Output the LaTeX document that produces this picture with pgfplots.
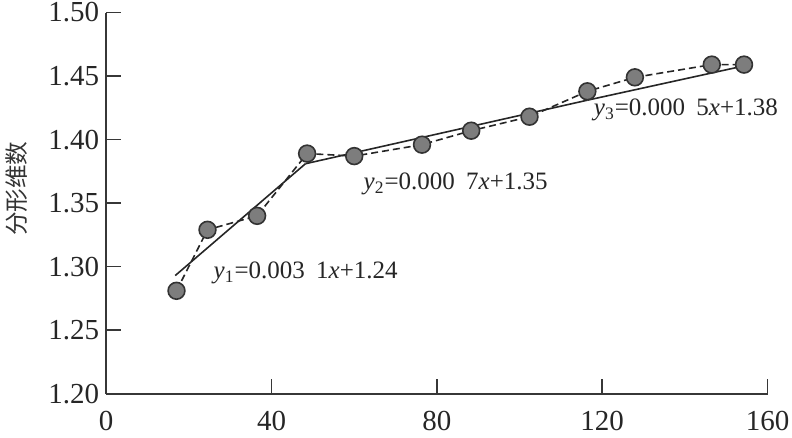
\documentclass[border={3pt 0pt -2pt -2pt}]{standalone}
\usepackage{fontspec}
\setmainfont{Liberation Serif}
\newfontfamily\cjk{Noto Sans CJK SC}
\usepackage{pgfplots}
\pgfplotsset{compat=1.18}
\definecolor{markgray}{RGB}{125,125,125}
\definecolor{axgray}{RGB}{55,55,55}
\newcommand{\eqfont}{\fontsize{12.5}{14}\selectfont}
\begin{document}
\begin{tikzpicture}
\begin{axis}[
  scale only axis, width=330.5pt, height=190.5pt,
  xmin=0, xmax=160, ymin=1.2, ymax=1.5,
  axis x line=bottom, axis y line=left,
  axis line style={-, axgray, line width=1pt},
  xtick={0,40,80,120,160},
  ytick={1.20,1.25,1.30,1.35,1.40,1.45,1.50},
  tick align=inside, major tick length=7.5pt,
  tick style={axgray, line width=0.8pt},
  /pgf/number format/assume math mode=true,
  yticklabel style={/pgf/number format/fixed, /pgf/number format/fixed zerofill, /pgf/number format/precision=2},
  ticklabel style={font=\fontsize{14.5}{16}\selectfont, text=black!85},
  xticklabel style={yshift=-5pt},
  ylabel={分形维数},
  ylabel style={at={(axis description cs:-0.135,0.538)}, anchor=center, inner sep=0pt, font=\cjk\fontsize{11.8}{12}\selectfont, text=black!80},
  clip=false,
]
% fitted segments
\addplot[black!85, line width=0.8pt] coordinates {(16.7,1.293) (48.2,1.381)};
\addplot[black!85, line width=0.8pt] coordinates {(48.2,1.381) (116.4,1.431)};
\addplot[black!85, line width=0.8pt] coordinates {(116.4,1.431) (154.3,1.458)};
% measured points
\addplot[black!85, line width=0.8pt, dash pattern=on 3.5pt off 2pt,
  mark=*, mark size=4.2pt, mark options={solid, fill=markgray, draw=black!80, line width=0.8pt}]
  coordinates {(17,1.281) (24.5,1.329) (36.5,1.340) (48.6,1.389) (60.0,1.387) (76.4,1.396) (88.3,1.407) (102.4,1.418) (116.4,1.438) (127.9,1.449) (146.5,1.459) (154.3,1.459)};
\node[anchor=base west, inner sep=0pt, font=\eqfont, text=black!85] at (axis cs:25.9,1.2903) {{\itshape y}\textsubscript{1}=0.003\hspace{0.45em}1{\itshape x}+1.24};
\node[anchor=base west, inner sep=0pt, font=\eqfont, text=black!85] at (axis cs:62.2,1.3606) {{\itshape y}\textsubscript{2}=0.000\hspace{0.45em}7{\itshape x}+1.35};
\node[anchor=base west, inner sep=0pt, font=\eqfont, text=black!85] at (axis cs:117.9,1.4189) {{\itshape y}\textsubscript{3}=0.000\hspace{0.45em}5{\itshape x}+1.38};
\end{axis}
\end{tikzpicture}
\end{document}
